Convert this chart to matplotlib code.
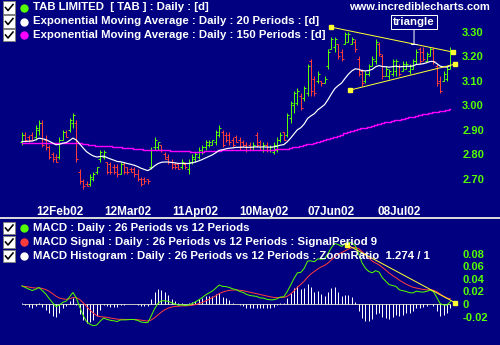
import matplotlib
matplotlib.use("Agg")
import matplotlib.pyplot as plt
import numpy as np
from matplotlib.lines import Line2D
from matplotlib.patches import Rectangle

# daily OHLC bars, oldest first
opens = [2.85, 2.88, 2.87, 2.88, 2.87, 2.90, 2.93, 2.86, 2.83, 2.80,
         2.79, 2.79, 2.86, 2.89, 2.90, 2.93, 2.93, 2.73, 2.69, 2.68,
         2.68, 2.70, 2.73, 2.78, 2.79, 2.77, 2.76, 2.75, 2.75, 2.72,
         2.76, 2.75, 2.74, 2.74, 2.72, 2.70, 2.70, 2.70, 2.75, 2.83,
         2.83, 2.84, 2.80, 2.79, 2.77, 2.76, 2.76, 2.75, 2.76, 2.74,
         2.77, 2.78, 2.79, 2.81, 2.83, 2.84, 2.84, 2.85, 2.88, 2.89,
         2.88, 2.88, 2.86, 2.87, 2.86, 2.85, 2.84, 2.84, 2.82, 2.88,
         2.85, 2.82, 2.84, 2.82, 2.81, 2.82, 2.86, 2.89, 2.88, 2.95,
         3.00, 3.01, 3.04, 3.03, 3.05, 3.18, 3.11, 3.10, 3.10, 3.09,
         3.16, 3.23, 3.24, 3.25, 3.22, 3.25, 3.26, 3.25, 3.26, 3.19,
         3.14, 3.10, 3.13, 3.16, 3.18, 3.25, 3.20, 3.12, 3.12, 3.13,
         3.14, 3.16, 3.14, 3.15, 3.14, 3.15, 3.18, 3.23, 3.22, 3.18,
         3.20, 3.23, 3.16, 3.10, 3.10, 3.11, 3.15]
highs = [2.89, 2.89, 2.88, 2.89, 2.92, 2.94, 2.94, 2.88, 2.84, 2.81,
         2.80, 2.87, 2.90, 2.90, 2.95, 2.97, 2.94, 2.74, 2.70, 2.69,
         2.72, 2.73, 2.75, 2.82, 2.82, 2.77, 2.77, 2.76, 2.76, 2.77,
         2.77, 2.75, 2.75, 2.75, 2.74, 2.71, 2.71, 2.70, 2.83, 2.87,
         2.85, 2.84, 2.81, 2.80, 2.78, 2.77, 2.76, 2.78, 2.77, 2.78,
         2.80, 2.81, 2.83, 2.84, 2.86, 2.86, 2.86, 2.90, 2.92, 2.90,
         2.89, 2.89, 2.87, 2.88, 2.87, 2.86, 2.85, 2.85, 2.85, 2.89,
         2.86, 2.85, 2.85, 2.84, 2.85, 2.87, 2.89, 2.89, 2.97, 3.02,
         3.06, 3.07, 3.05, 3.08, 3.17, 3.19, 3.12, 3.14, 3.10, 3.12,
         3.23, 3.28, 3.28, 3.25, 3.23, 3.30, 3.30, 3.28, 3.27, 3.20,
         3.15, 3.14, 3.17, 3.20, 3.27, 3.26, 3.21, 3.16, 3.15, 3.19,
         3.19, 3.17, 3.18, 3.18, 3.17, 3.19, 3.23, 3.24, 3.24, 3.22,
         3.24, 3.24, 3.17, 3.12, 3.14, 3.16, 3.24]
lows = [2.84, 2.85, 2.85, 2.86, 2.86, 2.88, 2.83, 2.82, 2.78, 2.77,
        2.77, 2.78, 2.86, 2.87, 2.89, 2.91, 2.77, 2.68, 2.66, 2.67,
        2.67, 2.69, 2.72, 2.77, 2.78, 2.72, 2.72, 2.72, 2.71, 2.72,
        2.72, 2.72, 2.73, 2.71, 2.69, 2.67, 2.68, 2.68, 2.74, 2.82,
        2.82, 2.81, 2.78, 2.76, 2.74, 2.74, 2.74, 2.74, 2.74, 2.72,
        2.76, 2.77, 2.78, 2.80, 2.82, 2.83, 2.84, 2.84, 2.87, 2.83,
        2.85, 2.84, 2.83, 2.85, 2.82, 2.83, 2.81, 2.82, 2.82, 2.83,
        2.82, 2.81, 2.81, 2.81, 2.80, 2.81, 2.85, 2.86, 2.87, 2.93,
        2.97, 3.00, 2.98, 3.02, 3.04, 3.04, 3.04, 3.09, 3.08, 3.09,
        3.15, 3.23, 3.22, 3.19, 3.18, 3.25, 3.26, 3.25, 3.22, 3.12,
        3.08, 3.09, 3.12, 3.16, 3.17, 3.20, 3.11, 3.12, 3.11, 3.12,
        3.12, 3.12, 3.14, 3.15, 3.13, 3.15, 3.17, 3.17, 3.18, 3.18,
        3.20, 3.17, 3.08, 3.05, 3.10, 3.10, 3.15]
closes = [2.88, 2.86, 2.86, 2.86, 2.91, 2.93, 2.84, 2.83, 2.79, 2.78,
          2.77, 2.86, 2.89, 2.87, 2.94, 2.96, 2.78, 2.69, 2.67, 2.67,
          2.71, 2.72, 2.75, 2.81, 2.81, 2.73, 2.73, 2.73, 2.72, 2.76,
          2.73, 2.73, 2.73, 2.72, 2.70, 2.68, 2.69, 2.69, 2.82, 2.86,
          2.85, 2.82, 2.78, 2.77, 2.75, 2.75, 2.74, 2.77, 2.75, 2.77,
          2.79, 2.80, 2.82, 2.83, 2.85, 2.85, 2.86, 2.89, 2.91, 2.84,
          2.86, 2.85, 2.84, 2.85, 2.83, 2.84, 2.82, 2.83, 2.84, 2.84,
          2.82, 2.84, 2.82, 2.83, 2.84, 2.86, 2.88, 2.86, 2.96, 3.01,
          3.05, 3.06, 2.99, 3.07, 3.16, 3.06, 3.05, 3.13, 3.09, 3.11,
          3.22, 3.27, 3.27, 3.20, 3.19, 3.29, 3.29, 3.27, 3.23, 3.13,
          3.09, 3.13, 3.16, 3.19, 3.26, 3.21, 3.12, 3.15, 3.14, 3.18,
          3.18, 3.13, 3.17, 3.17, 3.16, 3.18, 3.22, 3.18, 3.19, 3.21,
          3.23, 3.18, 3.09, 3.06, 3.13, 3.15, 3.22]

date_ticks = [11, 31, 51, 71, 91, 111]
date_labels = ["12Feb02", "12Mar02", "11Apr02", "10May02", "07Jun02", "08Jul02"]
price_ticks = [2.70, 2.80, 2.90, 3.00, 3.10, 3.20, 3.30]
macd_ticks = [-0.02, 0.0, 0.02, 0.04, 0.06, 0.08]
macd_tick_labels = ["-0.02", "0", "0.02", "0.04", "0.06", "0.08"]

# indicator levels carried over from before the first bar
ema20_start = 2.85
ema150_start = 2.845
ema12_start = 2.866
ema26_start = 2.836
signal_start = 0.028
hist_zoom = 1.274

# trend lines drawn on the chart: (bar index, value)
upper_x, upper_y = [90.9, 126.8], [3.32, 3.218]
lower_x, lower_y = [96.5, 127.4], [3.063, 3.169]
macd_tl_x, macd_tl_y = [95.6, 127.4], [0.094, 0.002]
triangle_at = 115.3

NAVY = "#000080"
UP = "#55ff00"
DOWN = "#ff3c3c"
PINK = "#ff00ff"
YELLOW = "#ffff33"
FONT = "Liberation Sans"
TXT = 8.2

W, H = 500, 345
PX = 0.72  # one pixel in points at 100 dpi


def ema(values, span, start):
    k = 2.0 / (span + 1)
    out, prev = [], start
    for v in values:
        prev = prev + k * (v - prev)
        out.append(prev)
    return np.array(out)


def fx(px):
    return px / W


def fy(py):
    return 1 - py / H


o = np.array(opens)
h = np.array(highs)
l = np.array(lows)
c = np.array(closes)
idx = np.arange(len(c))

ema20 = ema(c, 20, ema20_start)
ema150 = ema(c, 150, ema150_start)
macd = ema(c, 12, ema12_start) - ema(c, 26, ema26_start)
signal = ema(macd, 9, signal_start)
hist = (macd - signal) * hist_zoom

fig = plt.figure(figsize=(W / 100, H / 100), dpi=100, facecolor=NAVY)

xlim = (-22 / 3.4, (458 - 22) / 3.4)

# ---- price panel ----
ax = fig.add_axes([0, fy(203), fx(458), 203 / H])
ax.set_facecolor(NAVY)
ax.set_xlim(*xlim)
ax.set_ylim(3.30 - (203 - 32) / 245, 3.30 + 32 / 245)

colors = np.where(c >= o, UP, DOWN)
ax.vlines(idx, l, h, colors=colors, lw=PX)
ax.hlines(o, idx - 0.6, idx, colors=colors, lw=PX)
ax.hlines(c, idx, idx + 0.6, colors=colors, lw=PX)

ax.plot(idx, ema150, color=PINK, lw=PX * 1.4, drawstyle="steps-mid")
ax.plot(idx, ema20, color="white", lw=PX * 1.2)

for tx, ty in [(upper_x, upper_y), (lower_x, lower_y)]:
    ax.plot(tx, ty, color=YELLOW, lw=PX, marker="s", ms=3.2, mec=YELLOW)

ax.annotate("triangle", xy=(triangle_at, np.interp(triangle_at, upper_x, upper_y)),
            xytext=(triangle_at, 3.30 + 10 / 245), ha="center", va="center",
            color="white", fontsize=TXT, fontweight="bold", family=FONT,
            bbox=dict(boxstyle="square,pad=0.15", fc=NAVY, ec="white", lw=PX),
            arrowprops=dict(arrowstyle="-[,widthB=0.25,lengthB=0", color="white", lw=PX,
                            shrinkA=0, shrinkB=0))

ax.set_xticks(date_ticks)
ax.set_xticklabels(date_labels)
ax.set_yticks(price_ticks)
ax.set_yticklabels([f"{p:.2f}" for p in price_ticks])
ax.yaxis.tick_right()
ax.tick_params(axis="x", length=0, pad=2, labelcolor="white", labelsize=8.5)
ax.tick_params(axis="y", length=0, pad=3, labelcolor=UP, labelsize=8)
for lab in ax.get_xticklabels() + ax.get_yticklabels():
    lab.set_fontweight("bold")
    lab.set_family(FONT)
for s in ax.spines.values():
    s.set_visible(False)

# ---- MACD panel ----
bx = fig.add_axes([0, 0, fx(458), (H - 220) / H])
bx.set_facecolor(NAVY)
bx.set_xlim(*xlim)
bx.set_ylim(-(345 - 304) / 12.6 * 0.02, (304 - 220) / 12.6 * 0.02)
bx.hlines(0, 0, idx[-1], color="#c0c0c0", lw=PX)
bx.vlines(idx, 0, hist, colors="white", lw=PX)
bx.plot(idx, signal, color=DOWN, lw=PX)
bx.plot(idx, macd, color=UP, lw=PX)
bx.plot(macd_tl_x, macd_tl_y, color=YELLOW, lw=PX, marker="s", ms=3.2, mec=YELLOW)
bx.set_xticks([])
bx.set_yticks(macd_ticks)
bx.set_yticklabels(macd_tick_labels)
bx.yaxis.tick_right()
bx.tick_params(axis="y", length=0, pad=3, labelcolor=UP, labelsize=8)
for lab in bx.get_yticklabels():
    lab.set_fontweight("bold")
    lab.set_family(FONT)
for s in bx.spines.values():
    s.set_visible(False)

# panel divider
fig.add_artist(Line2D([0, 1], [fy(218), fy(218)], color="#d8d8d8", lw=PX * 2))


def legend_row(yc, dot, text):
    fig.add_artist(Rectangle((fx(3), fy(yc + 6)), 12 / W, 12 / H, fc="white",
                             ec="#808080", lw=PX))
    fig.add_artist(Line2D([fx(5.5), fx(8), fx(13)], [fy(yc), fy(yc + 3), fy(yc - 3)],
                          color="black", lw=PX * 1.6))
    fig.add_artist(Line2D([fx(24)], [fy(yc)], marker="o", ms=5, color=dot, mec=dot))
    fig.text(fx(33), fy(yc), text, color="white", fontsize=TXT, fontweight="bold",
             family=FONT, va="center", ha="left")


legend_row(7.5, UP, "TAB LIMITED  [ TAB ] : Daily : [d]")
legend_row(21.5, "white", "Exponential Moving Average : Daily : 20 Periods : [d]")
legend_row(35, PINK, "Exponential Moving Average : Daily : 150 Periods : [d]")
legend_row(228, UP, "MACD : Daily : 26 Periods vs 12 Periods")
legend_row(242, DOWN, "MACD Signal : Daily : 26 Periods vs 12 Periods : SignalPeriod 9")
legend_row(256, "white", "MACD Histogram : Daily : 26 Periods vs 12 Periods : ZoomRatio  1.274 / 1")

fig.text(fx(490), fy(7.5), "www.incrediblecharts.com", color="white", fontsize=8,
         fontweight="bold", family=FONT, ha="right", va="center")

fig.savefig("out.png", dpi=100, facecolor=NAVY)
